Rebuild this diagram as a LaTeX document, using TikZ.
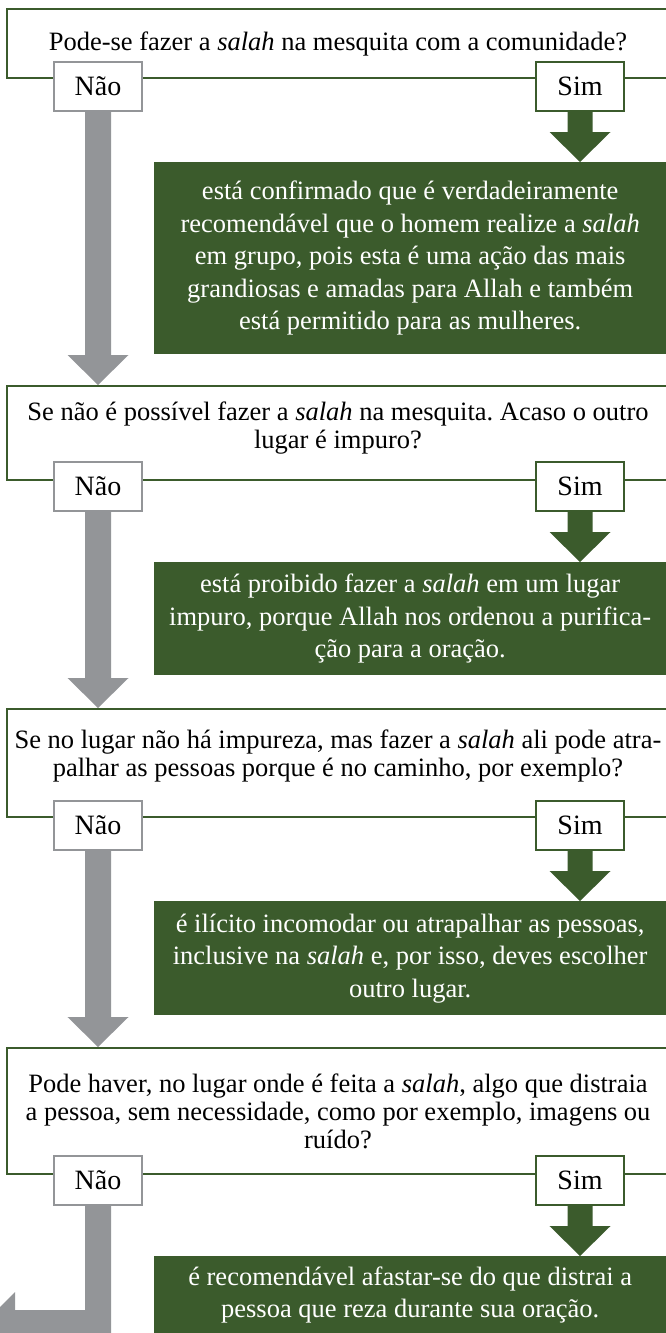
\documentclass[tikz,border=0pt]{standalone}
\usepackage{fontspec}
\setmainfont{Liberation Serif}
\usetikzlibrary{calc}
\frenchspacing
\definecolor{dgreen}{RGB}{59,91,44}
\definecolor{agray}{RGB}{147,149,152}
\newcommand\qfont{\fontsize{26.5}{28}\selectfont}
\newcommand\gfont{\fontsize{26.5}{32.5}\selectfont}
\newcommand\optfont{\fontsize{28}{30}\selectfont}
% #1 colour, #2 start node anchor, #3 tip coordinate, #4 shaft half width
\newcommand\blockarrow[4]{%
  \fill[#1] let \p1=(#2), \p2=(#3) in
    (\x1-#4pt,\y1) -- (\x1-#4pt,\y2+30pt) -- (\x1-30.5pt,\y2+30pt) -- (\x1,\y2)
    -- (\x1+30.5pt,\y2+30pt) -- (\x1+#4pt,\y2+30pt) -- (\x1+#4pt,\y1) -- cycle;}
\tikzset{
  qline/.style={draw=dgreen, line width=1.8pt},
  qtext/.style={align=center, inner sep=0pt, font=\qfont, text=black},
  naobox/.style={draw=agray, fill=white, line width=2pt, minimum width=88pt,
    minimum height=49pt, inner sep=0pt, font=\optfont},
  simbox/.style={naobox, draw=dgreen},
  gbox/.style={fill=dgreen, text=white, align=center, inner sep=0pt,
    font=\gfont, anchor=north west, minimum width=512pt},
}
\begin{document}
\begin{tikzpicture}[x=1pt, y=-1pt]
\useasboundingbox (0,0) rectangle (666,1333);
\begin{scope}
\clip (0,0) rectangle (666,1333);
% question frames
\draw[qline] (666,9) -| (7,78) -- (666,78);
\draw[qline] (666,386) -| (7,480) -- (666,480);
\draw[qline] (666,709) -| (7,817) -- (666,817);
\draw[qline] (666,1048) -| (7,1174) -- (666,1174);
% option boxes
\node[naobox] (n1) at (98,86.5) {Não};
\node[simbox] (s1) at (580,86.5) {Sim};
\node[naobox] (n2) at (98,486) {Não};
\node[simbox] (s2) at (580,486) {Sim};
\node[naobox] (n3) at (98,825) {Não};
\node[simbox] (s3) at (580,825) {Sim};
\node[naobox] (n4) at (98,1180.5) {Não};
\node[simbox] (s4) at (580,1180.5) {Sim};
% answer boxes
\node[gbox, minimum height=192pt] (g1) at (154,162) {está confirmado que é verdadeiramente\\recomendável que o homem realize a \textit{salah}\\em grupo, pois esta é uma ação das mais\\grandiosas e amadas para Allah e também\\está permitido para as mulheres.};
\node[gbox, minimum height=113pt] (g2) at (154,562) {está proibido fazer a \textit{salah} em um lugar\\impuro, porque Allah nos ordenou a purifica-\\ção para a oração.};
\node[gbox, minimum height=114pt] (g3) at (154,901) {é ilícito incomodar ou atrapalhar as pessoas,\\inclusive na \textit{salah} e, por isso, deves escolher\\outro lugar.};
\node[gbox, minimum height=78pt] (g4) at (154,1256) {é recomendável afastar-se do que distrai a\\pessoa que reza durante sua oração.};
% tips on the next question frames
\coordinate (t2) at (98,385);
\coordinate (t3) at (98,708);
\coordinate (t4) at (98,1047);
\coordinate (end) at (-16,1323);
% arrows
\blockarrow{dgreen}{s1.south}{g1.north -| s1.south}{12.5}
\blockarrow{dgreen}{s2.south}{g2.north -| s2.south}{12.5}
\blockarrow{dgreen}{s3.south}{g3.north -| s3.south}{12.5}
\blockarrow{dgreen}{s4.south}{g4.north -| s4.south}{12.5}
\blockarrow{agray}{n1.south}{t2}{13}
\blockarrow{agray}{n2.south}{t3}{13}
\blockarrow{agray}{n3.south}{t4}{13}
\fill[agray] ($(n4.south)+(-13,0)$) |- (15,1310) -- (15,1292) -- (end)
  -- (15,1354) -- (15,1336) -| ($(n4.south)+(13,0)$) -- cycle;
% question texts
\node[qtext] (q1) at (338,44) {Pode-se fazer a \textit{salah} na mesquita com a comunidade?};
\node[qtext] (q2) at (338,428) {Se não é possível fazer a \textit{salah} na mesquita. Acaso o outro\\lugar é impuro?};
\node[qtext] (q3) at (338,756) {Se no lugar não há impureza, mas fazer a \textit{salah} ali pode atra-\\palhar as pessoas porque é no caminho, por exemplo?};
\node[qtext] (q4) at (338,1111) {Pode haver, no lugar onde é feita a \textit{salah}, algo que distraia\\a pessoa, sem necessidade, como por exemplo, imagens ou\\ruído?};
\end{scope}
\end{tikzpicture}
\end{document}
